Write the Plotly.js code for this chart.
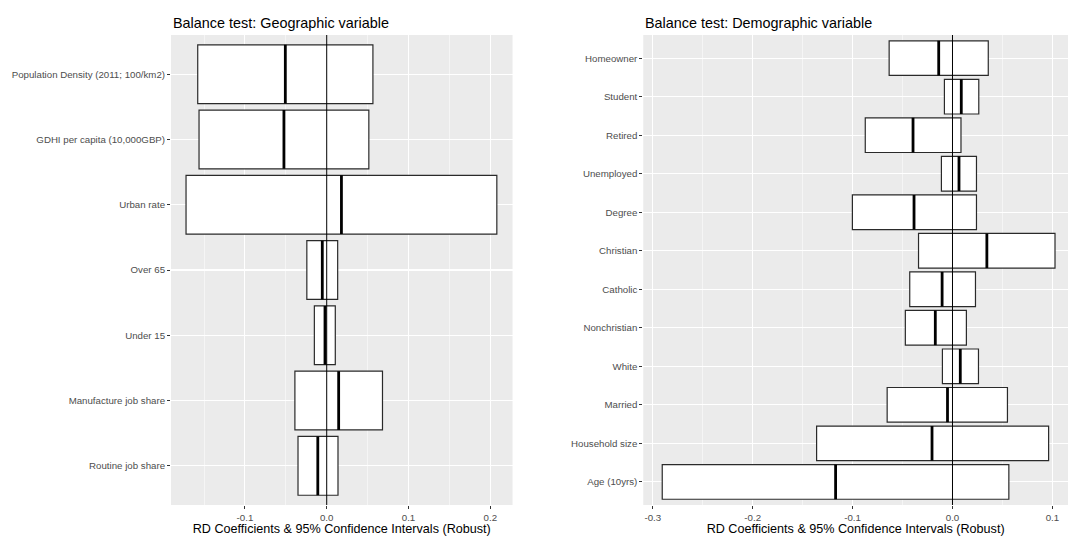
<!DOCTYPE html>
<html>
<head>
<meta charset="utf-8">
<script src="https://cdn.plot.ly/plotly-3.0.1.min.js"></script>
<style>html,body{margin:0;padding:0;background:#fff}#chart{width:1068px;height:536px}</style>
</head>
<body>
<div id="chart"></div>
<script>
// ---- Data (top-to-bottom order as shown) ----
const geoVars = ["Population Density (2011; 100/km2)", "GDHI per capita (10,000GBP)", "Urban rate", "Over 65", "Under 15", "Manufacture job share", "Routine job share"];
const geoEst  = [-0.0506, -0.0523, 0.0180, -0.0054, -0.0021, 0.0146, -0.0109];
const geoLow  = [-0.1577, -0.1561, -0.1720, -0.0243, -0.0151, -0.0389, -0.0351];
const geoHigh = [0.0565, 0.0515, 0.2080, 0.0134, 0.0105, 0.0682, 0.0138];

const demoVars = ["Homeowner", "Student", "Retired", "Unemployed", "Degree", "Christian", "Catholic", "Nonchristian", "White", "Married", "Household size", "Age (10yrs)"];
const demoEst  = [-0.0138, 0.0088, -0.0395, 0.0065, -0.0385, 0.0344, -0.0104, -0.0172, 0.0078, -0.0050, -0.0205, -0.1170];
const demoLow  = [-0.0634, -0.0081, -0.0873, -0.0111, -0.1002, -0.0340, -0.0428, -0.0472, -0.0101, -0.0654, -0.1360, -0.2905];
const demoHigh = [0.0358, 0.0263, 0.0085, 0.0240, 0.0240, 0.1026, 0.0230, 0.0139, 0.0260, 0.0550, 0.0962, 0.0564];

const xTickVals = [-0.3, -0.2, -0.1, 0.0, 0.1, 0.2];
const xTickText = ["-0.3", "-0.2", "-0.1", "0.0", "0.1", "0.2"];

const titleGeo = "Balance test: Geographic variable";
const titleDemo = "Balance test: Demographic variable";
const xTitle = "RD Coefficients & 95% Confidence Intervals (Robust)";

// ---- Build traces ----
const HALF = 0.45;
function positions(n){ return Array.from({length:n}, (_,i)=> n - i); }

function crossbar(vars, est, low, high, xa, ya){
  const pos = positions(vars.length);
  const box = {
    type: 'bar', orientation: 'h', xaxis: xa, yaxis: ya,
    y: pos, base: low, x: high.map((h,i)=> h - low[i]),
    width: 0.9,
    marker: {color: '#ffffff', line: {color: '#2a2a2a', width: 1.2}},
    hoverinfo: 'skip', showlegend: false
  };
  const lx = [], ly = [];
  est.forEach((e,i)=>{ lx.push(e, e, null); ly.push(pos[i]-HALF, pos[i]+HALF, null); });
  const mid = {
    type: 'scatter', mode: 'lines', xaxis: xa, yaxis: ya,
    x: lx, y: ly, line: {color: '#000000', width: 2.8},
    hoverinfo: 'skip', showlegend: false
  };
  return [box, mid];
}

const data = [
  ...crossbar(geoVars, geoEst, geoLow, geoHigh, 'x', 'y'),
  ...crossbar(demoVars, demoEst, demoLow, demoHigh, 'x2', 'y2')
];

const FAM = 'Liberation Sans, Arial, sans-serif';
const tickFont = {family: FAM, size: 9.7, color: '#4d4d4d'};
const titleFont = {family: FAM, size: 12.6, color: '#000'};

function xaxisCfg(domain, range, anchor){
  return {
    domain: domain, range: range, anchor: anchor,
    tickvals: xTickVals, ticktext: xTickText,
    ticks: 'outside', ticklen: 3, tickwidth: 1, tickcolor: '#333333',
    tickfont: tickFont,
    showgrid: true, gridcolor: '#ffffff', gridwidth: 1.1,
    minor: {dtick: 0.05, tick0: 0, showgrid: true, gridcolor: '#ffffff', gridwidth: 0.5, ticks: ''},
    zeroline: false, showline: false, automargin: false, fixedrange: true,
    title: {text: xTitle, font: titleFont, standoff: 1}
  };
}
function yaxisCfg(vars, anchor){
  const pos = positions(vars.length);
  return {
    domain: [0.0578, 0.9347], anchor: anchor,
    range: [0.4, vars.length + 0.6],
    tickvals: pos, ticktext: vars,
    ticks: 'outside', ticklen: 3, tickwidth: 1, tickcolor: '#333333',
    tickfont: tickFont,
    showgrid: true, gridcolor: '#ffffff', gridwidth: 1.1,
    zeroline: false, showline: false, automargin: false, fixedrange: true
  };
}

const layout = {
  width: 1068, height: 536,
  margin: {l: 0, r: 0, t: 0, b: 0},
  paper_bgcolor: '#ffffff',
  plot_bgcolor: '#ebebeb',
  showlegend: false,
  barmode: 'overlay',
  xaxis: xaxisCfg([0.1601, 0.4799], [-0.1904, 0.2272], 'y'),
  yaxis: yaxisCfg(geoVars, 'x'),
  xaxis2: xaxisCfg([0.6023, 1.0], [-0.3095, 0.1156], 'y2'),
  yaxis2: yaxisCfg(demoVars, 'x2'),
  shapes: [
    {type: 'line', layer: 'above', xref: 'x', yref: 'y domain', x0: 0, x1: 0, y0: 0, y1: 1, line: {color: '#000', width: 1}},
    {type: 'line', layer: 'above', xref: 'x2', yref: 'y2 domain', x0: 0, x1: 0, y0: 0, y1: 1, line: {color: '#000', width: 1}}
  ],
  annotations: [
    {text: titleGeo, xref: 'paper', yref: 'paper', x: 0.1601, y: 0.958, xanchor: 'left', yanchor: 'middle', showarrow: false,
     font: {family: FAM, size: 14.4, color: '#000'}},
    {text: titleDemo, xref: 'paper', yref: 'paper', x: 0.6023, y: 0.958, xanchor: 'left', yanchor: 'middle', showarrow: false,
     font: {family: FAM, size: 14.4, color: '#000'}}
  ]
};

Plotly.newPlot('chart', data, layout, {staticPlot: true, displayModeBar: false});
</script>
</body>
</html>
